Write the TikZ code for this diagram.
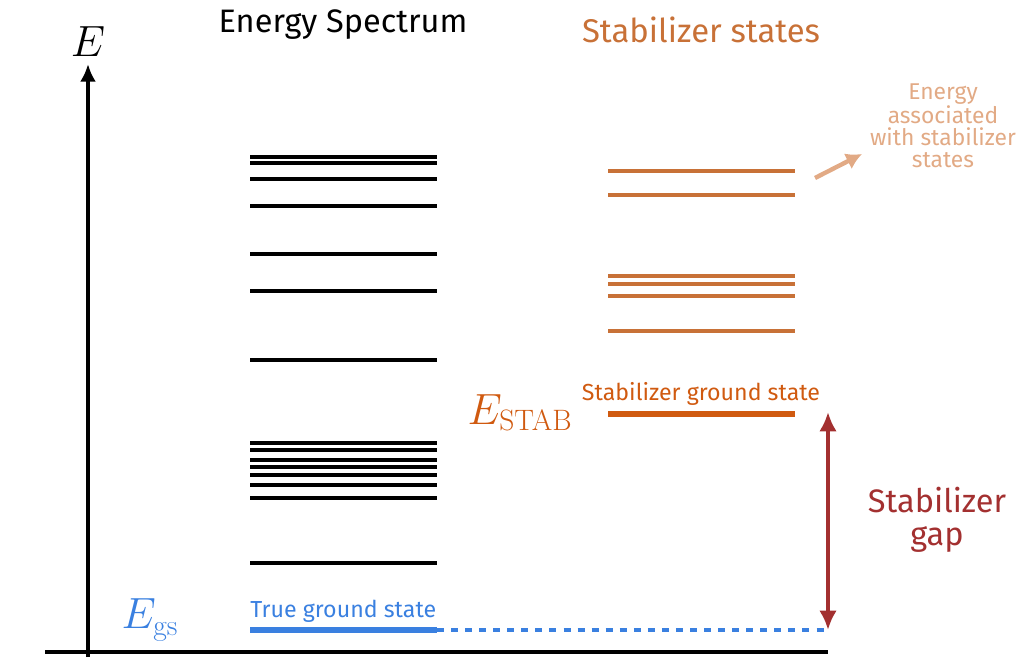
\documentclass[tikz,border=0pt]{standalone}
\usepackage{amsmath}
\usepackage{fontspec}
\setmainfont{Fira Sans}
\newfontfamily\lmr{Latin Modern Roman}
\usetikzlibrary{arrows.meta,positioning}
\definecolor{stab}{HTML}{C87137}
\definecolor{stabgs}{HTML}{D05A10}
\definecolor{ann}{HTML}{E2AA85}
\definecolor{gsblue}{HTML}{3A80E0}
\definecolor{gapred}{HTML}{A33030}
\begin{document}
\begin{tikzpicture}[x=0.02cm,y=-0.02cm]
  \tikzset{level/.style={line width=2.2pt},
           lbl/.style={inner sep=0pt, font=\fontsize{13.2}{15}\selectfont}}
  \useasboundingbox (0,0) rectangle (1020,661);
  % axes
  \coordinate (ybot) at (88,657);
  \coordinate (ytop) at (88,64);
  \coordinate (xl) at (45,652);
  \coordinate (xr) at (828,652);
  \draw[line width=2pt,-{Latex[length=10pt,width=9pt]}] (ybot) -- (ytop);
  \draw[line width=2pt] (xl) -- (xr);
  \node[lbl,font=\fontsize{36}{38}\selectfont] (E) at (88,42) {$E$};
  % energy spectrum
  \node[lbl,font=\fontsize{18.5}{20}\selectfont] (spec) at (343,25) {Energy Spectrum};
  \foreach \y in {157,163,179,206,254,291,360,443,450,460,467,475,485,498,563}
    \draw[level] (250,\y) -- (437,\y);
  \coordinate (gsl) at (250,630);
  \coordinate (gsr) at (437,630);
  \draw[gsblue,line width=3pt] (gsl) -- (gsr);
  \node[lbl,gsblue,above=4pt of gsl,anchor=south west] (gstext) {True ground state};
  \node[lbl,gsblue,font=\fontsize{24}{26}\selectfont] (Egs) at (150,620) {$E_{\text{\lmr gs}}$};
  \coordinate (gapbot) at (828,630);
  \draw[gsblue,line width=2pt,dash pattern=on 4pt off 4pt] (gsr) -- (gapbot);
  % stabilizer states
  \node[lbl,stab,font=\fontsize{18.7}{20}\selectfont] (stabt) at (701,30) {Stabilizer states};
  \foreach \y in {171,195,276,284,296,331}
    \draw[stab,level] (608,\y) -- (795,\y);
  \coordinate (sgl) at (608,414);
  \coordinate (sgr) at (795,414);
  \draw[stabgs,line width=3pt] (sgl) -- (sgr);
  \node[lbl,stabgs] (sgtext) at (701,394) {Stabilizer ground state};
  \node[lbl,stabgs,font=\fontsize{24}{26}\selectfont] (Estab) at (520,413) {$E_{\text{\lmr STAB}}$};
  % annotation
  \node[lbl,ann,align=center,font=\fontsize{13}{12.5}\selectfont] (anntext) at (943,126)
    {Energy\\associated\\with stabilizer\\states};
  \coordinate (anns) at (815,178);
  \coordinate (anne) at (862,154);
  \draw[ann,line width=2.5pt,-{Latex[length=9pt,width=10pt]}] (anns) -- (anne);
  % gap
  \coordinate (gaptop) at (828,412);
  \draw[gapred,line width=2.5pt,{Latex[length=11pt,width=10pt]}-{Latex[length=11pt,width=10pt]}] (gaptop) -- (gapbot);
  \node[lbl,gapred,align=center,font=\fontsize{18.5}{19}\selectfont] (gaptext) at (937,520) {Stabilizer\\gap};
\end{tikzpicture}
\end{document}
